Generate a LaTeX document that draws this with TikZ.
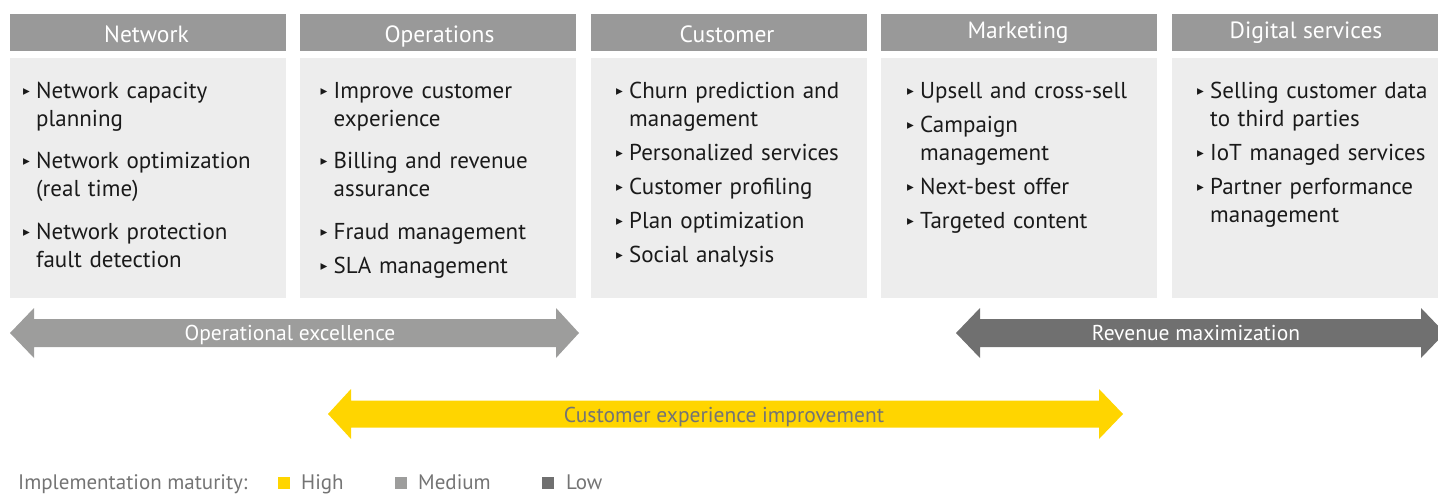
\documentclass[tikz,border=0pt]{standalone}
\usepackage{fontspec}
\setmainfont{PT Sans}
\newfontfamily\dejavu{DejaVu Sans}
\definecolor{hdrgray}{HTML}{999999}
\definecolor{boxgray}{HTML}{EDEDED}
\definecolor{medgray}{HTML}{9D9D9C}
\definecolor{lowgray}{HTML}{707070}
\definecolor{eyyellow}{HTML}{FFD500}
\definecolor{txtgray}{HTML}{747474}
\definecolor{bodytxt}{HTML}{1A1A1A}
\newcommand{\bul}{{\dejavu\fontsize{13.5}{13.5}\selectfont\raisebox{3pt}{▸}}}
\newcommand{\itm}[2][6pt]{\par\vspace{#1}\hangindent=13pt\hangafter=1\noindent\makebox[13pt][l]{\bul}#2}
\newcommand{\firstitm}[1]{\hangindent=13pt\hangafter=1\noindent\rule{0pt}{20pt}\makebox[13pt][l]{\bul}#1}
\newcommand{\dblarrow}[8]{\fill[#1] (#2,#6) -- (#3,#6-#8) -- (#3,#6-#7) -- (#4,#6-#7) -- (#4,#6-#8) -- (#5,#6) -- (#4,#6+#8) -- (#4,#6+#7) -- (#3,#6+#7) -- (#3,#6+#8) -- cycle;}
\tikzset{
  hdr/.style={fill=hdrgray, minimum width=276pt, minimum height=37pt, inner sep=0pt},
  hdrtxt/.style={anchor=base, inner sep=0pt, text=white, font=\fontsize{23.5}{26}\selectfont},
  bodybox/.style={fill=boxgray, minimum width=276pt, minimum height=240pt, inner sep=0pt},
  items/.style={anchor=north west, inner sep=0pt, text width=265pt, align=left, text=bodytxt, font=\fontsize{23}{28}\selectfont},
  arrlabel/.style={anchor=base, inner sep=0pt, font=\fontsize{21.5}{24}\selectfont},
  legtxt/.style={inner sep=0pt, anchor=base west, text=txtgray, font=\fontsize{21}{24}\selectfont},
  legsq/.style={minimum size=12.5pt, inner sep=0pt, anchor=north west}
}
\begin{document}
\begin{tikzpicture}[x=1pt,y=-1pt]
\useasboundingbox (0,0) rectangle (1438,495);
\clip (0,0) rectangle (1438,495);
% headers
\node[hdr] (hnet) at (148,32.5) {};
\node[hdr] (hops) at (438,32.5) {};
\node[hdr] (hcus) at (728.5,32.5) {};
\node[hdr] (hmkt) at (1019,32.5) {};
\node[hdr, minimum width=268pt] (hdig) at (1306,32.5) {};
\node[hdrtxt] (lnet) at (146.5,42.7) {Network};
\node[hdrtxt] (lops) at (439.5,42.7) {Operations};
\node[hdrtxt] (lcus) at (727,42.7) {Customer};
\node[hdrtxt] (lmkt) at (1018,39) {Marketing};
\node[hdrtxt] (ldig) at (1306,39) {Digital services};
% bodies
\node[bodybox] (bnet) at (148,178) {};
\node[bodybox] (bops) at (438,178) {};
\node[bodybox] (bcus) at (728.5,178) {};
\node[bodybox] (bmkt) at (1019,178) {};
\node[bodybox, minimum width=268pt] (bdig) at (1306,178) {};
% items
\node[items] (tnet) at (23,78.5) {\firstitm{Network capacity\newline planning}\itm[14pt]{Network optimization\newline (real time)}\itm[14.5pt]{Network protection\newline fault detection}\par};
\node[items] (tops) at (320.5,78.5) {\firstitm{Improve customer\newline experience}\itm[14pt]{Billing and revenue\newline assurance}\itm[14.5pt]{Fraud management}\itm{SLA management}\par};
\node[items] (tcus) at (616,78.5) {\firstitm{Churn prediction and\newline management}\itm{Personalized services}\itm{Customer profiling}\itm{Plan optimization}\itm{Social analysis}\par};
\node[items] (tmkt) at (907,78.5) {\firstitm{Upsell and cross-sell}\itm{Campaign\newline management}\itm{Next-best offer}\itm{Targeted content}\par};
\node[items] (tdig) at (1197,78.5) {\firstitm{Selling customer data\newline to third parties}\itm{IoT managed services}\itm{Partner performance\newline management}\par};
% arrows
\dblarrow{medgray}{10}{34}{556}{579}{333}{14}{25}
\node[arrlabel, text=white] (aope) at (290,340.7) {Operational excellence};
\dblarrow{lowgray}{956}{980}{1421}{1445}{333}{14}{25}
\node[arrlabel, text=white] (arev) at (1196,340.7) {Revenue maximization};
\dblarrow{eyyellow}{328}{351}{1099}{1123}{414}{13.5}{25}
\node[arrlabel, text=txtgray] (acus) at (724,422) {Customer experience improvement};
% legend
\node[legtxt] (lgd) at (18,489) {Implementation maturity:};
\node[legsq, fill=eyyellow] (sqh) at (277.5,476.7) {};
\node[legtxt] (lh) at (301,489) {High};
\node[legsq, fill=medgray] (sqm) at (394.5,476.7) {};
\node[legtxt] (lm) at (418,489) {Medium};
\node[legsq, fill=lowgray] (sql) at (541.5,476.7) {};
\node[legtxt] (ll) at (566,489) {Low};
\end{tikzpicture}
\end{document}
